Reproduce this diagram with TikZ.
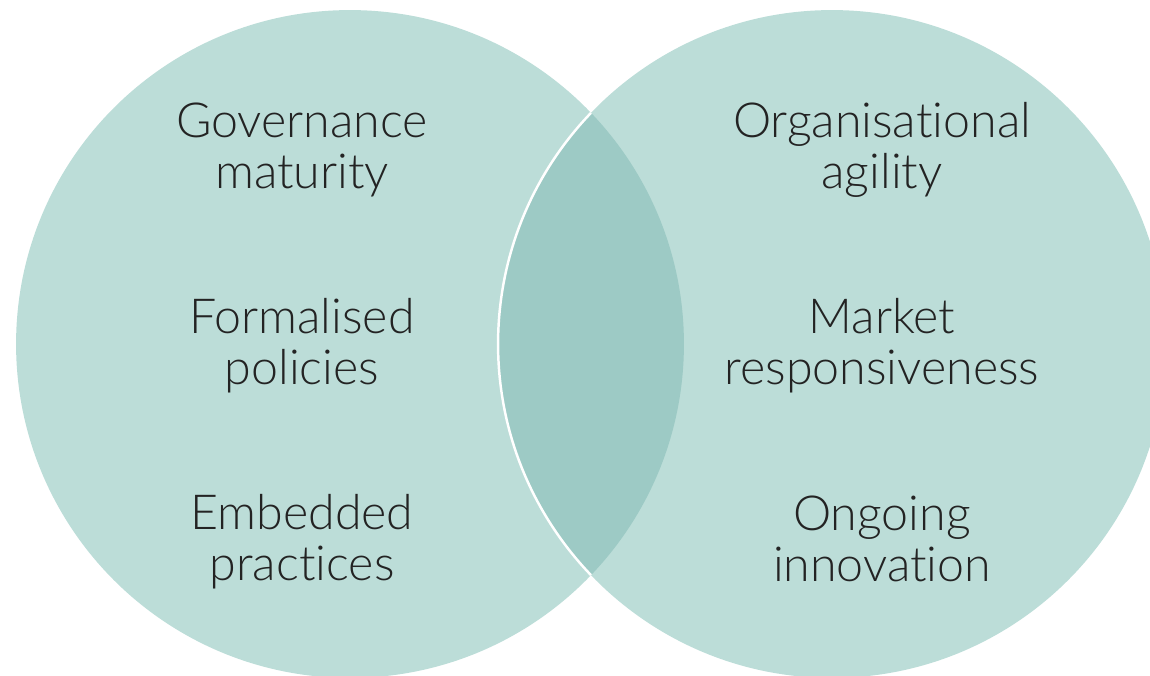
\documentclass[tikz,border=0pt]{standalone}
\usepackage{fontspec}
\setmainfont{Lato}[UprightFont=* Light,Ligatures={NoCommon}]
\definecolor{venn}{HTML}{BCDDD8}
\definecolor{vennmid}{HTML}{9DCAC5}
\definecolor{ink}{HTML}{232323}
\begin{document}
\begin{tikzpicture}[x=0.02cm,y=-0.02cm,
    term/.style={align=center,text=ink,inner sep=0pt,
      font=\fontsize{27.5}{29}\selectfont}]
  \useasboundingbox (0,0) rectangle (1150,676);
  \clip (0,0) rectangle (1150,676);
  \coordinate (gov) at (350,344);
  \coordinate (agil) at (832,344);
  \fill[venn] (gov) circle[radius=6.68cm];
  \fill[venn] (agil) circle[radius=6.68cm];
  \begin{scope}
    \clip (gov) circle[radius=6.68cm];
    \fill[vennmid] (agil) circle[radius=6.68cm];
    \draw[white,line width=1.4pt] (agil) circle[radius=6.68cm];
  \end{scope}
  % left set
  \node[term] (g1) at (302,150) {Governance\\maturity};
  \node[term] (g2) at (302,346) {Formalised\\policies};
  \node[term] (g3) at (302,542) {Embedded\\practices};
  % right set
  \node[term] (a1) at (882,150) {Organisational\\agility};
  \node[term] (a2) at (882,346) {Market\\responsiveness};
  \node[term] (a3) at (882,539) {Ongoing\\innovation};
\end{tikzpicture}
\end{document}
